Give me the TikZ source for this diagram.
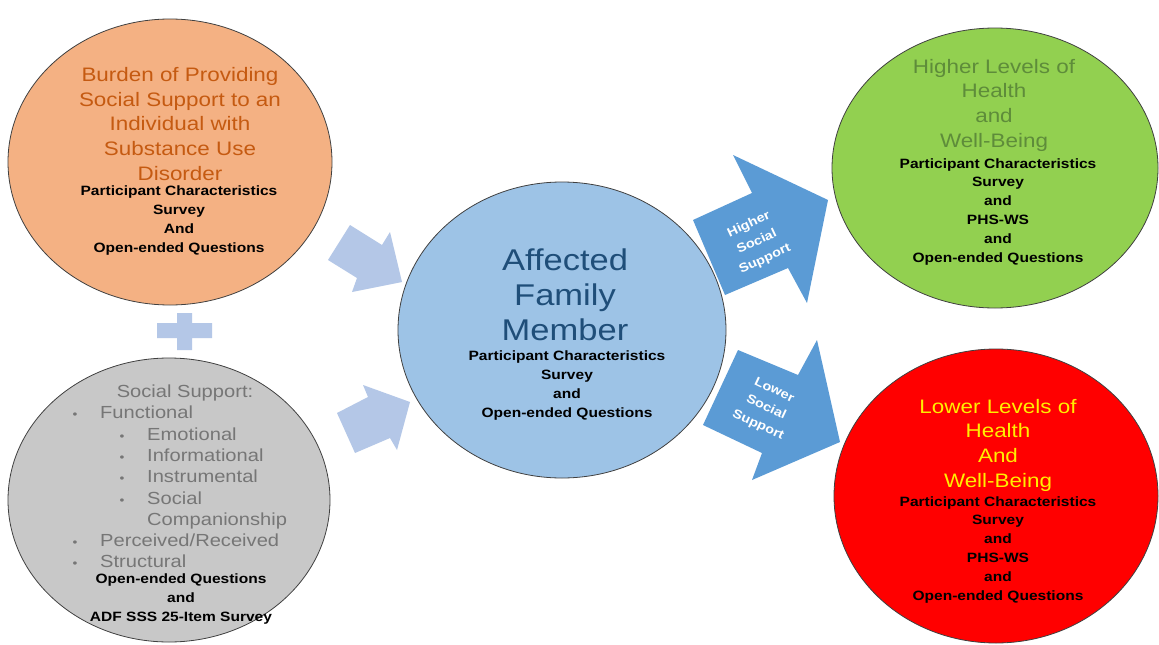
\documentclass[tikz,border=0pt]{standalone}
\usepackage{fontspec}
\setmainfont{Liberation Sans}[FakeStretch=1.15]
\usetikzlibrary{shapes.geometric}
\definecolor{orangeF}{HTML}{F4B183}
\definecolor{orangeT}{HTML}{C55A11}
\definecolor{grayF}{HTML}{C8C8C8}
\definecolor{grayT}{HTML}{767676}
\definecolor{blueF}{HTML}{9DC3E6}
\definecolor{blueT}{HTML}{1F4E79}
\definecolor{greenF}{HTML}{92D050}
\definecolor{greenT}{HTML}{5E8C3A}
\definecolor{redF}{HTML}{FF0000}
\definecolor{redT}{HTML}{FFEE00}
\definecolor{lightArrow}{HTML}{B4C7E7}
\definecolor{darkArrow}{HTML}{5B9BD5}
\definecolor{outline}{HTML}{404040}
\tikzset{
  oval/.style={ellipse, draw=outline, line width=0.8pt, inner sep=0pt},
  title/.style={align=center, inner sep=0pt, anchor=base, font=\fontsize{19.5}{24.6}\selectfont},
  bigtitle/.style={align=center, inner sep=0pt, anchor=base, font=\fontsize{30}{35}\selectfont},
  sub/.style={align=center, inner sep=0pt, anchor=base, font=\bfseries\fontsize{13.5}{18.8}\selectfont},
  listitem/.style={inner sep=0pt, anchor=base west, text=grayT, font=\fontsize{17.5}{21}\selectfont},
  bul/.style={inner sep=0pt, anchor=base, text=grayT, font=\fontsize{12}{14}\selectfont},
  arrowtext/.style={align=center, inner sep=0pt, text=white, font=\bfseries\fontsize{12.5}{19}\selectfont},
  lightblock/.style={fill=lightArrow, draw=none},
  darkblock/.style={fill=darkArrow, draw=none}
}
\begin{document}
\begin{tikzpicture}[x=1pt,y=-1pt]
\useasboundingbox[fill=white] (0,0) rectangle (1159,645);

% ellipses
\node[oval, fill=orangeF, minimum width=324pt, minimum height=286pt] (burden) at (170,162) {};
\node[oval, fill=grayF, minimum width=322pt, minimum height=284pt] (support) at (169,500) {};
\node[oval, fill=blueF, minimum width=328pt, minimum height=296pt] (afm) at (562,330) {};
\node[oval, fill=greenF, minimum width=326pt, minimum height=280pt] (higher) at (995,168) {};
\node[oval, fill=redF, minimum width=324pt, minimum height=294pt] (lower) at (996,496) {};

% plus sign
\fill[lightArrow] (157,323) -- (177,323) -- (177,313) -- (192,313) -- (192,323) -- (212,323)
  -- (212,338) -- (192,338) -- (192,350) -- (177,350) -- (177,338) -- (157,338) -- cycle;

% light block arrows into the centre
\path[lightblock] (350,225) -- (382,245) -- (390,232) -- (402,282) -- (352,292) -- (357,278) -- (328,260) -- cycle;
\path[lightblock] (337,413) -- (368,397) -- (363,385) -- (410,402) -- (397,450) -- (390,438) -- (355,453) -- cycle;

% dark block arrows out of the centre
\path[darkblock] (693,220) -- (752,193) -- (733,155) -- (828,200) -- (807,303) -- (788,268) -- (725,295) -- cycle;
\path[darkblock] (738,350) -- (798,375) -- (817,340) -- (840,442) -- (752,480) -- (762,453) -- (703,425) -- cycle;

\node[arrowtext, rotate=25] (hss) at (757,242) {Higher\\Social\\Support};
\node[arrowtext, rotate=-25] (lss) at (766,408) {Lower\\Social\\Support};

% burden text (base anchor = last line)
\node[title, text=orangeT] (burdenT) at (180,180) {Burden of Providing\\Social Support to an\\Individual with\\Substance Use\\Disorder};
\node[sub] (burdenS) at (179,252) {Participant Characteristics\\Survey\\And\\Open-ended Questions};

% social support text
\node[listitem, anchor=base] (s0) at (185,397) {Social Support:};
\node[bul] (b1) at (75,418) {•};
\node[listitem] (s1) at (100,418) {Functional};
\node[bul] (b2) at (122,440) {•};
\node[listitem] (s2) at (147,440) {Emotional};
\node[bul] (b3) at (122,461) {•};
\node[listitem] (s3) at (147,461) {Informational};
\node[bul] (b4) at (122,482) {•};
\node[listitem] (s4) at (147,482) {Instrumental};
\node[bul] (b5) at (122,504) {•};
\node[listitem] (s5) at (147,504) {Social};
\node[listitem] (s6) at (147,525) {Companionship};
\node[bul] (b7) at (75,546) {•};
\node[listitem] (s7) at (100,546) {Perceived/Received};
\node[bul] (b8) at (75,567) {•};
\node[listitem] (s8) at (100,567) {Structural};
\node[sub] (supportS) at (181,621) {Open-ended Questions\\and\\ADF SSS 25-Item Survey};

% centre text
\node[bigtitle, text=blueT] (afmT) at (565,340) {Affected\\Family\\Member};
\node[sub] (afmS) at (567,417) {Participant Characteristics\\Survey\\and\\Open-ended Questions};

% higher text
\node[title, text=greenT] (higherT) at (994,147) {Higher Levels of\\Health\\and\\Well-Being};
\node[sub] (higherS) at (998,262) {Participant Characteristics\\Survey\\and\\PHS-WS\\and\\Open-ended Questions};

% lower text
\node[title, text=redT] (lowerT) at (998,487) {Lower Levels of\\Health\\And\\Well-Being};
\node[sub] (lowerS) at (998,600) {Participant Characteristics\\Survey\\and\\PHS-WS\\and\\Open-ended Questions};
\end{tikzpicture}
\end{document}
